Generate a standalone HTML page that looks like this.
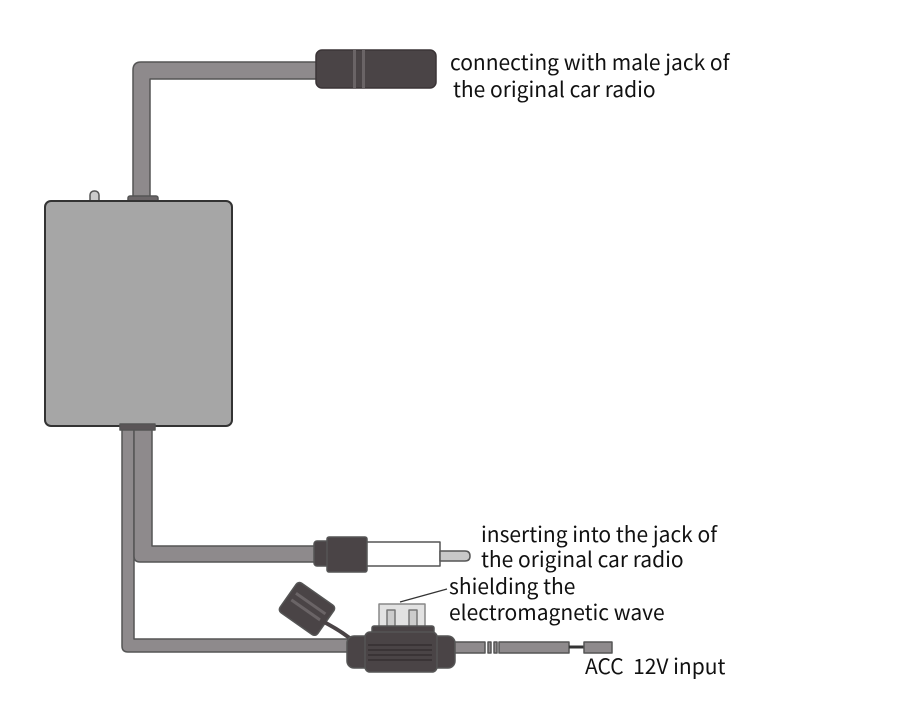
<!DOCTYPE html>
<html><head><meta charset="utf-8"><style>
html,body{margin:0;padding:0;background:#fff;width:904px;height:723px;overflow:hidden}
svg{display:block}
text{font-family:"Noto Sans CJK SC","Liberation Sans",sans-serif;font-size:21px;fill:#111}
</style></head><body>
<svg width="904" height="723" viewBox="0 0 904 723" xmlns="http://www.w3.org/2000/svg">
<g stroke="#555" stroke-width="1.5" stroke-linejoin="round">
<path d="M133,200 V70 Q133,62 141,62 H318 V79 H150 V200 Z" fill="#8e8a8c"/>
<rect x="316" y="50" width="120" height="38" rx="6" fill="#4a4446" stroke="#3a3436"/>
<rect x="353" y="50" width="3" height="38" fill="#6a6466" stroke="none"/>
<rect x="362" y="50" width="3" height="38" fill="#6a6466" stroke="none"/>
<rect x="90" y="191" width="9" height="14" rx="4" fill="#ccc"/>
<rect x="128" y="196" width="30" height="7" rx="2" fill="#6b6668"/>
<rect x="45" y="201" width="187" height="225" rx="6" fill="#a6a6a6" stroke="#333" stroke-width="2"/>
<path d="M122,426 V646 Q122,652 128,652 H352 V639 H134 V426 Z" fill="#8e8a8c"/>
<path d="M134,426 V556 Q134,562 140,562 H316 V546 H152 V426 Z" fill="#8e8a8c"/>
<rect x="120" y="424" width="35" height="6" fill="#5a5557"/>
<rect x="314" y="541" width="15" height="25" rx="3" fill="#4a4446"/>
<rect x="327" y="537" width="40" height="35" rx="2" fill="#4a4446"/>
<rect x="367" y="542" width="73" height="24" fill="#fff"/>
<path d="M440,551 H465 Q470,551 470,556 Q470,561 465,561 H440 Z" fill="#c8c8c8"/>
<g transform="rotate(35 305 610)"><rect x="283" y="590" width="46" height="36" rx="4" fill="#4a4446"/>
<rect x="288" y="600" width="36" height="3" fill="#6a6466" stroke="none"/><rect x="288" y="608" width="36" height="3" fill="#6a6466" stroke="none"/></g>
<path d="M320,620 Q340,630 352,640" fill="none" stroke="#4a4446" stroke-width="4"/>
<rect x="379" y="604" width="46" height="24" fill="#e2e2e2" stroke="#888"/>
<rect x="387" y="610" width="8" height="18" fill="#ccc" stroke="#777"/>
<rect x="409" y="610" width="8" height="18" fill="#ccc" stroke="#777"/>
<rect x="372" y="626" width="62" height="8" rx="2" fill="#4a4446"/>
<rect x="347" y="636" width="108" height="32" rx="7" fill="#4a4446"/>
<rect x="365" y="632" width="72" height="40" rx="5" fill="#4a4446"/>
<g stroke="#2a2426" stroke-width="1"><line x1="368" y1="645" x2="432" y2="645"/><line x1="368" y1="650" x2="432" y2="650"/><line x1="368" y1="655" x2="432" y2="655"/><line x1="368" y1="660" x2="432" y2="660"/></g>
<rect x="455" y="642" width="30" height="11" fill="#8e8a8c"/>
<rect x="488" y="642" width="3" height="11" fill="#8e8a8c"/>
<rect x="494" y="642" width="3" height="11" fill="#8e8a8c"/>
<rect x="499" y="642" width="70" height="11" fill="#8e8a8c"/>
<line x1="569" y1="647" x2="584" y2="647" stroke="#333" stroke-width="3"/>
<rect x="584" y="642" width="28" height="11" fill="#8e8a8c"/>
</g>
<line x1="400" y1="602" x2="447" y2="589" stroke="#333" stroke-width="1.2"/>
<text x="450" y="70">connecting with male jack of</text>
<text x="453" y="97">the original car radio</text>
<text x="481" y="542">inserting into the jack of</text>
<text x="481" y="567">the original car radio</text>
<text x="449" y="594">shielding the</text>
<text x="449" y="620">electromagnetic wave</text>
<text x="585" y="674">ACC&#160; 12V input</text>
</svg>
</body></html>
